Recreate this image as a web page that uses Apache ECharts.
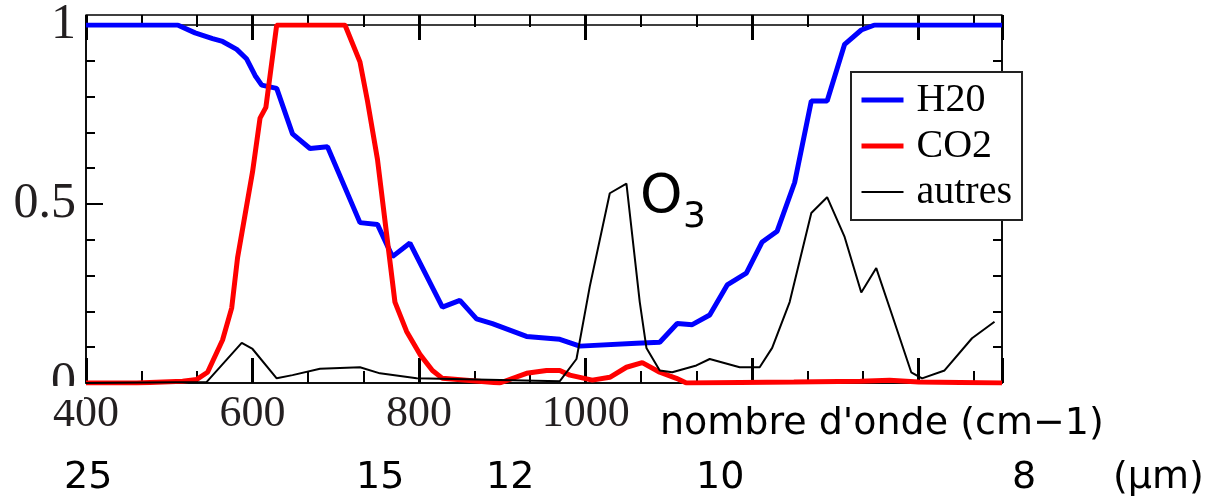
<!DOCTYPE html>
<html>
<head>
<meta charset="utf-8">
<script src="https://cdn.jsdelivr.net/npm/echarts@6/dist/echarts.min.js"></script>
<style>
  html, body { margin: 0; padding: 0; background: #fff; }
  #chart { width: 1208px; height: 500px; }
</style>
</head>
<body>
<div id="chart"></div>
<script>
  // wavenumber (cm-1) / absorption
  const h2oX = [400, 510, 531, 552, 564, 581, 593, 603, 611, 629, 648, 669, 690, 729, 750, 768, 789, 828, 849, 869, 888, 929, 969, 993, 1061, 1089, 1110, 1128, 1149, 1170, 1193, 1212, 1230, 1251, 1271, 1290, 1311, 1331, 1347, 1500];
  const h2oY = [1, 1, 0.978, 0.962, 0.954, 0.932, 0.905, 0.859, 0.832, 0.823, 0.696, 0.655, 0.66, 0.448, 0.443, 0.353, 0.391, 0.212, 0.231, 0.179, 0.166, 0.13, 0.122, 0.103, 0.111, 0.114, 0.166, 0.163, 0.19, 0.274, 0.307, 0.394, 0.424, 0.56, 0.788, 0.788, 0.946, 0.986, 1, 1];

  const co2X = [400, 461, 516, 533, 546, 552, 564, 575, 582, 591, 600, 609, 616, 629, 711, 729, 738, 750, 761, 771, 785, 801, 816, 828, 897, 929, 953, 969, 981, 1008, 1029, 1049, 1068, 1089, 1109, 1121, 1250, 1330, 1365, 1400, 1500];
  const co2Y = [0, 0, 0.005, 0.01, 0.03, 0.06, 0.12, 0.21, 0.35, 0.47, 0.59, 0.74, 0.77, 1, 1, 0.897, 0.788, 0.625, 0.416, 0.226, 0.144, 0.08, 0.035, 0.013, 0, 0.027, 0.035, 0.035, 0.022, 0.008, 0.016, 0.044, 0.057, 0.03, 0.013, 0, 0.003, 0.005, 0.008, 0.003, 0];

  const autresX = [400, 545, 587, 600, 629, 648, 681, 729, 753, 797, 969, 989, 1005, 1029, 1049, 1065, 1073, 1089, 1104, 1133, 1149, 1185, 1209, 1224, 1245, 1271, 1290, 1311, 1331, 1349, 1368, 1391, 1404, 1431, 1464, 1491];
  const autresY = [0, 0.003, 0.112, 0.095, 0.013, 0.022, 0.04, 0.044, 0.027, 0.013, 0.005, 0.067, 0.27, 0.53, 0.557, 0.226, 0.098, 0.035, 0.03, 0.049, 0.067, 0.044, 0.044, 0.098, 0.226, 0.475, 0.519, 0.408, 0.253, 0.321, 0.19, 0.03, 0.013, 0.035, 0.125, 0.171];

  const seriesNames = ['H20', 'CO2', 'autres'];
  const seriesColors = ['#0000ff', '#ff0000', '#000'];
  const seriesWidths = [5, 5, 2];
  const labelTicks = [400, 600, 800, 1000];
  const micronLabels = ['25', '15', '12', '10', '8', '(µm)'];
  const axisTitle = 'nombre d\'onde (cm\u22121)';

  const zip = (xs, ys) => xs.map((x, i) => [x, ys[i]]);

  const serifFont = '"Liberation Serif", "Times New Roman", serif';
  const sansFont = '"DejaVu Sans", sans-serif';
  const lineBlack = { color: '#000', width: 1.5 };
  const gridBox = { left: 86, top: 15, right: 206, bottom: 117 };

  const xAxisFor = (gridIndex, position, showLabel) => ({
    type: 'value',
    gridIndex: gridIndex,
    position: position,
    min: 400,
    max: 1500,
    interval: 200,
    splitLine: { show: false },
    axisLine: { show: true, lineStyle: lineBlack },
    axisTick: { show: true, inside: true, length: 25, lineStyle: { color: '#000', width: 3 } },
    minorTick: { show: true, splitNumber: 3, length: 12, lineStyle: { color: '#000', width: 2 } },
    axisLabel: {
      show: showLabel,
      formatter: (v) => (labelTicks.indexOf(v) > -1 ? String(v) : ''),
      fontFamily: serifFont,
      fontSize: 44,
      color: '#231f20',
      margin: 9,
      showMaxLabel: false,
    },
  });

  const yAxisFor = (position, showLabel) => ({
    type: 'value',
    gridIndex: 0,
    position: position,
    min: 0,
    max: 1,
    interval: 0.5,
    splitLine: { show: false },
    axisLine: { show: true, lineStyle: lineBlack },
    axisTick: { show: true, inside: true, length: 17, lineStyle: { color: '#000', width: 2 } },
    minorTick: { show: true, splitNumber: 5, length: 9, lineStyle: { color: '#000', width: 2 } },
    axisLabel: {
      show: showLabel,
      fontFamily: serifFont,
      fontSize: 50,
      color: '#231f20',
      margin: 10,
    },
  });

  const chart = echarts.init(document.getElementById('chart'));

  const option = {
    animation: false,
    backgroundColor: '#fff',
    // grid 1 only carries the top axis; its hidden y range has no zero,
    // so the top axis is not pulled down onto y = 0
    grid: [
      { ...gridBox, show: true, borderColor: '#000', borderWidth: 1.5 },
      { ...gridBox },
    ],
    xAxis: [xAxisFor(0, 'bottom', true), xAxisFor(1, 'top', false)],
    yAxis: [
      yAxisFor('left', true),
      yAxisFor('right', false),
      { type: 'value', gridIndex: 1, show: false, min: 1, max: 2 },
    ],
    legend: {
      orient: 'vertical',
      left: 851,
      top: 72,
      backgroundColor: '#fff',
      borderColor: '#222',
      borderWidth: 2,
      borderRadius: 0,
      padding: [6, 10, 6, 8],
      itemGap: 2,
      itemWidth: 42,
      itemHeight: 20,
      data: seriesNames.map((name, i) => ({
        name: name,
        lineStyle: { color: seriesColors[i], width: seriesWidths[i] },
      })),
      itemStyle: { opacity: 0 },
      textStyle: {
        fontFamily: serifFont,
        fontSize: 40,
        lineHeight: 44,
        color: '#000',
        padding: [0, 0, 0, 8],
      },
    },
    series: [
      {
        name: seriesNames[0],
        type: 'line',
        symbol: 'none',
        data: zip(h2oX, h2oY),
        lineStyle: { color: seriesColors[0], width: seriesWidths[0] },
        itemStyle: { color: seriesColors[0] },
        z: 2,
      },
      {
        name: seriesNames[1],
        type: 'line',
        symbol: 'none',
        data: zip(co2X, co2Y),
        lineStyle: { color: seriesColors[1], width: seriesWidths[1] },
        itemStyle: { color: seriesColors[1] },
        z: 3,
      },
      {
        name: seriesNames[2],
        type: 'line',
        symbol: 'none',
        data: zip(autresX, autresY),
        lineStyle: { color: seriesColors[2], width: seriesWidths[2] },
        itemStyle: { color: seriesColors[2] },
        z: 4,
      },
    ],
  };

  // hand placed annotations
  const micronLeft = [64, 356, 486, 696, 1012, 1113];
  const graphics = micronLabels.map((t, i) => ({
    type: 'text',
    x: micronLeft[i],
    y: 478,
    style: { text: t, font: '38px ' + sansFont, fill: '#000', align: 'left', verticalAlign: 'middle' },
  }));
  graphics.push(
    {
      type: 'text',
      x: 660,
      y: 424,
      style: { text: axisTitle, font: '38px ' + sansFont, fill: '#000', align: 'left', verticalAlign: 'middle' },
    },
    {
      type: 'text',
      x: 640,
      y: 198,
      style: { text: 'O', font: '54px ' + sansFont, fill: '#000', align: 'left', verticalAlign: 'middle' },
    },
    {
      type: 'text',
      x: 683,
      y: 218,
      style: { text: '3', font: '36px ' + sansFont, fill: '#000', align: 'left', verticalAlign: 'middle' },
    },
    // the "0" label is cut off under the axis in the original
    {
      type: 'rect',
      shape: { x: 0, y: 386, width: 84, height: 14 },
      style: { fill: '#fff' },
      z: 100,
    }
  );
  option.graphic = graphics;

  chart.setOption(option);
</script>
</body>
</html>
